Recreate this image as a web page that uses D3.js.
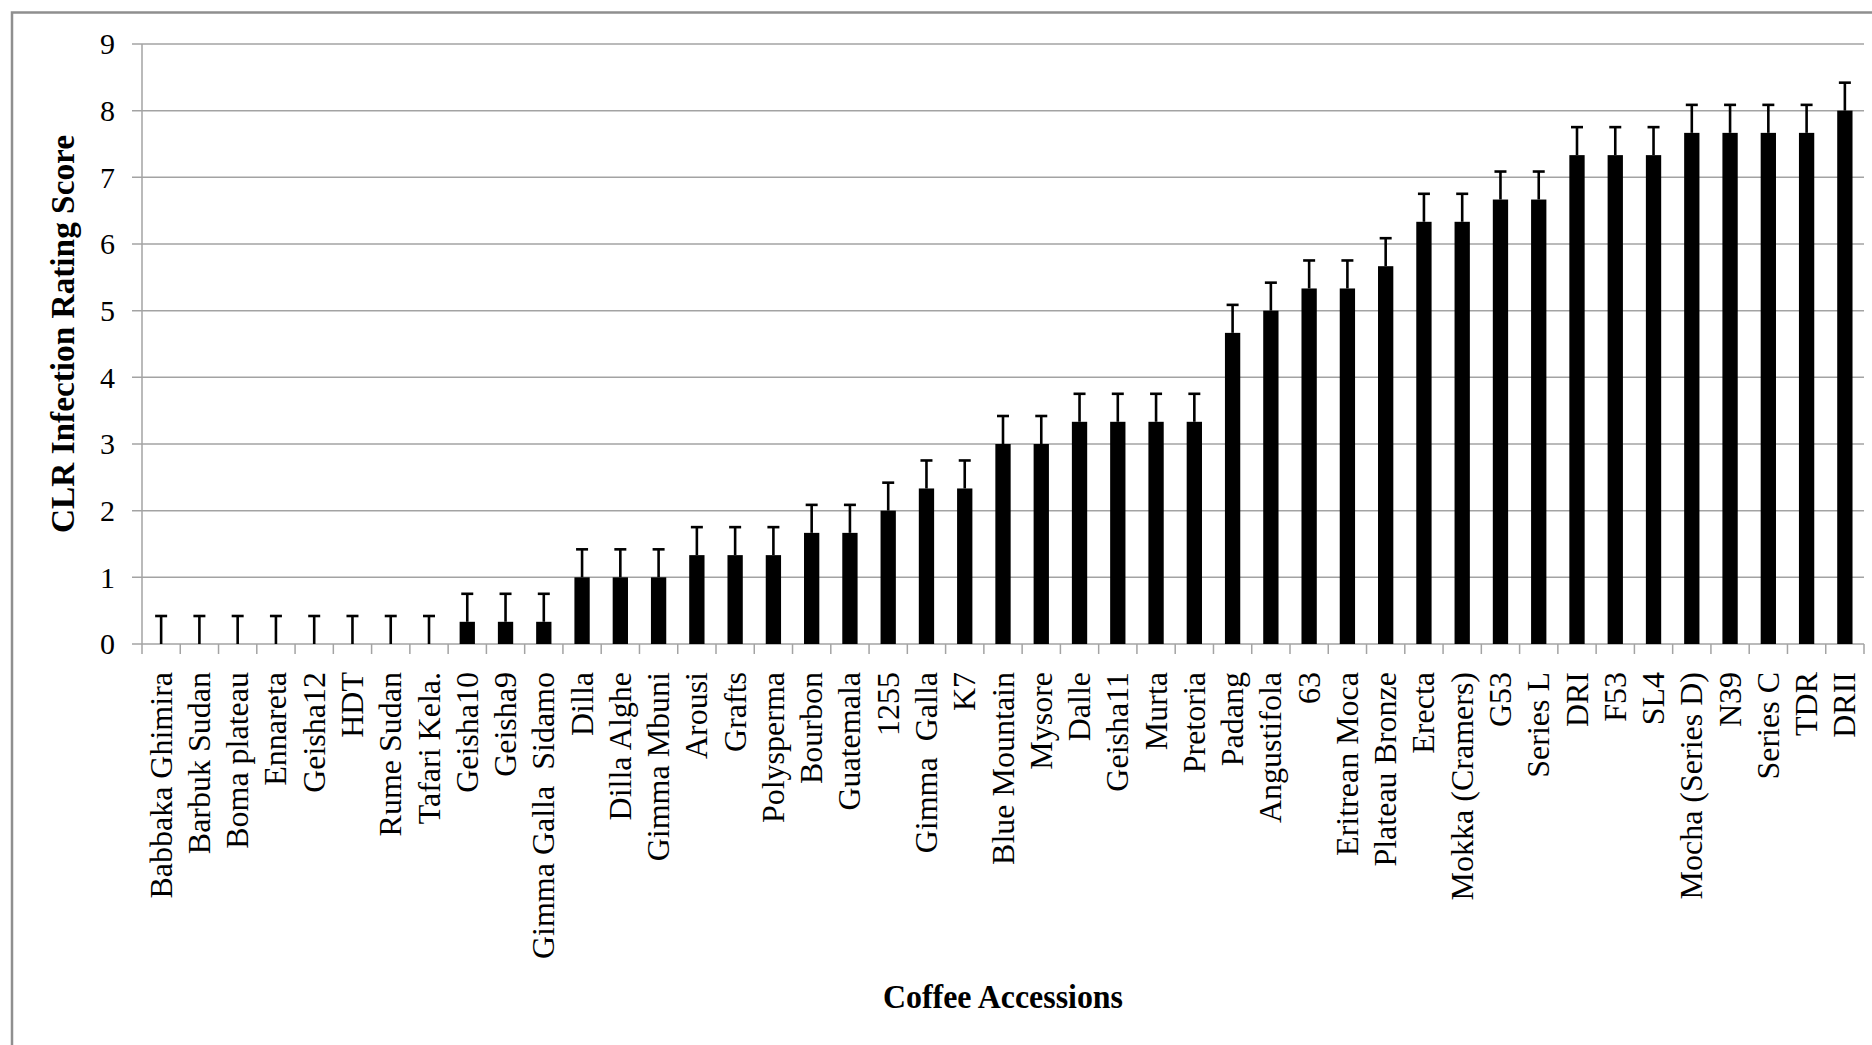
<!DOCTYPE html>
<html>
<head>
<meta charset="utf-8">
<script src="https://cdn.jsdelivr.net/npm/d3@7"></script>
<style>
  html, body { margin: 0; padding: 0; background: #fff; }
  svg { display: block; }
  text { font-family: "Liberation Serif", "Times New Roman", serif; fill: #000; }
</style>
</head>
<body>
<svg id="chart" width="1872" height="1045"></svg>
<script>
const categories = [
  "Babbaka Ghimira", "Barbuk Sudan", "Boma plateau", "Ennareta", "Geisha12", "HDT",
  "Rume Sudan", "Tafari Kela.", "Geisha10", "Geisha9", "Gimma Galla  Sidamo", "Dilla",
  "Dilla Alghe", "Gimma Mbuni", "Arousi", "Grafts", "Polysperma", "Bourbon", "Guatemala",
  "1255", "Gimma  Galla", "K7", "Blue Mountain", "Mysore", "Dalle", "Geisha11", "Murta",
  "Pretoria", "Padang", "Angustifola", "63", "Eritrean Moca", "Plateau Bronze", "Erecta",
  "Mokka (Cramers)", "G53", "Series L", "DRI", "F53", "SL4", "Mocha (Series D)", "N39",
  "Series C", "TDR", "DRII"
];
const scores = [
  0, 0, 0, 0, 0, 0, 0, 0, 0.333, 0.333, 0.333, 1, 1, 1, 1.333, 1.333, 1.333, 1.667, 1.667,
  2, 2.333, 2.333, 3, 3, 3.333, 3.333, 3.333, 3.333, 4.667, 5, 5.333, 5.333, 5.667, 6.333,
  6.333, 6.667, 6.667, 7.333, 7.333, 7.333, 7.667, 7.667, 7.667, 7.667, 8
];
const errors = [
  0.42, 0.42, 0.42, 0.42, 0.42, 0.42, 0.42, 0.42, 0.42, 0.42, 0.42, 0.42, 0.42, 0.42, 0.42,
  0.42, 0.42, 0.42, 0.42, 0.42, 0.42, 0.42, 0.42, 0.42, 0.42, 0.42, 0.42, 0.42, 0.42, 0.42,
  0.42, 0.42, 0.42, 0.42, 0.42, 0.42, 0.42, 0.42, 0.42, 0.42, 0.42, 0.42, 0.42, 0.42, 0.42
];
const yTicks = [0, 1, 2, 3, 4, 5, 6, 7, 8, 9];
const yTitle = "CLR Infection Rating Score";
const xTitle = "Coffee Accessions";

(function () {
const svg = d3.select("#chart");

// outer frame
svg.append("rect")
  .attr("x", 12).attr("y", 12.5).attr("width", 1900).attr("height", 1100)
  .attr("fill", "none").attr("stroke", "#8f8f8f").attr("stroke-width", 2.5);

const pLeft = 142, pRight = 1864, pTop = 44, pBottom = 644;

const x = d3.scaleBand().domain(categories).range([pLeft, pRight])
  .paddingInner(0.6).paddingOuter(0.3);
const y = d3.scaleLinear().domain([0, 9]).range([pBottom, pTop]);
const step = x.step();

// gridlines with left tick marks
svg.append("g").selectAll("line").data(yTicks).join("line")
  .attr("x1", pLeft - 10).attr("x2", pRight)
  .attr("y1", d => y(d)).attr("y2", d => y(d))
  .attr("stroke", "#a3a3a3").attr("stroke-width", 1.5);

// y axis line
svg.append("line")
  .attr("x1", pLeft).attr("x2", pLeft).attr("y1", y(9)).attr("y2", pBottom)
  .attr("stroke", "#a3a3a3").attr("stroke-width", 1.5);

// x ticks at category boundaries
svg.append("g").selectAll("line").data(d3.range(categories.length + 1)).join("line")
  .attr("x1", i => pLeft + i * step).attr("x2", i => pLeft + i * step)
  .attr("y1", pBottom).attr("y2", pBottom + 10)
  .attr("stroke", "#a3a3a3").attr("stroke-width", 1.5);

// y tick labels
svg.append("g").selectAll("text").data(yTicks).join("text")
  .attr("x", 115).attr("y", d => y(d)).attr("dy", "0.34em")
  .attr("text-anchor", "end").attr("font-size", 30)
  .text(d => d);

// bars
svg.append("g").selectAll("rect").data(categories).join("rect")
  .attr("x", d => x(d)).attr("width", x.bandwidth())
  .attr("y", (d, i) => y(scores[i]))
  .attr("height", (d, i) => y(0) - y(scores[i]))
  .attr("fill", "#000");

// error bars
const eb = svg.append("g").attr("stroke", "#000").attr("stroke-width", 2.6);
eb.selectAll("line.v").data(categories).join("line").attr("class", "v")
  .attr("x1", d => x(d) + x.bandwidth() / 2).attr("x2", d => x(d) + x.bandwidth() / 2)
  .attr("y1", (d, i) => y(scores[i]))
  .attr("y2", (d, i) => y(scores[i] + errors[i]));
eb.selectAll("line.c").data(categories).join("line").attr("class", "c")
  .attr("x1", d => x(d) + x.bandwidth() / 2 - 6).attr("x2", d => x(d) + x.bandwidth() / 2 + 6)
  .attr("y1", (d, i) => y(scores[i] + errors[i]))
  .attr("y2", (d, i) => y(scores[i] + errors[i]));

// x labels (rotated)
svg.append("g").selectAll("text").data(categories).join("text")
  .attr("transform", d => `translate(${x(d) + x.bandwidth() / 2},672) rotate(-90)`)
  .attr("text-anchor", "end").attr("dy", "0.33em")
  .attr("font-size", 32)
  .style("white-space", "pre")
  .text(d => d);

// y title
svg.append("text")
  .attr("transform", "translate(63,334) rotate(-90)")
  .attr("text-anchor", "middle").attr("dy", "0.33em")
  .attr("font-size", 33).attr("font-weight", "bold")
  .attr("textLength", 398).attr("lengthAdjust", "spacingAndGlyphs")
  .text(yTitle);

// x title
svg.append("text")
  .attr("x", 883).attr("y", 1008)
  .attr("font-size", 34).attr("font-weight", "bold")
  .attr("textLength", 240).attr("lengthAdjust", "spacingAndGlyphs")
  .text(xTitle);
})();
</script>
</body>
</html>
